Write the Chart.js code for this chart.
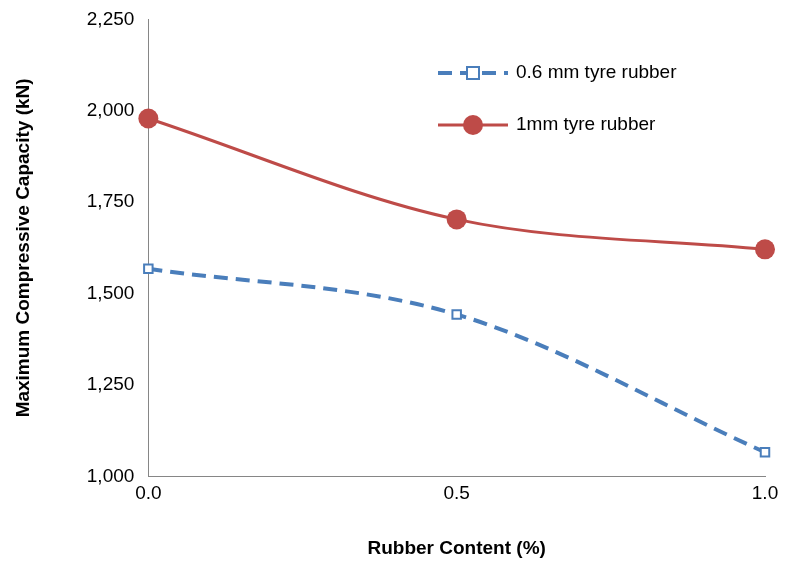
<!DOCTYPE html>
<html lang="en">
<head>
<meta charset="UTF-8">
<title>Compressive capacity</title>
<script src="https://cdn.jsdelivr.net/npm/chart.js@4.4.0/dist/chart.umd.min.js"></script>
<style>
  html, body { margin: 0; padding: 0; background: #fff; }
  #wrap { width: 786px; height: 567px; }
</style>
</head>
<body>
<div id="wrap"><canvas id="chart"></canvas></div>
<script>
var rubberContent = [0.0, 0.5, 1.0];
var capacity06 = [1568, 1443, 1066];
var capacity1 = [1979, 1703, 1621];
var seriesNames = ['0.6 mm tyre rubber', '1mm tyre rubber'];

var blue = '#4a7ebb';
var red = '#be4b48';
var font = "'Liberation Sans', Arial, sans-serif";

function pts(xs, ys) {
    return xs.map(function (x, i) { return { x: x, y: ys[i] }; });
}

// legend drawn inside the plot, line + marker sample like the original
var insideLegend = {
    id: 'insideLegend',
    afterDraw: function (chart) {
        var ctx = chart.ctx;
        var items = chart.data.datasets;
        var x0 = 438, y0 = 73, gap = 52;
        ctx.save();
        items.forEach(function (ds, i) {
            var y = y0 + i * gap;
            ctx.strokeStyle = ds.borderColor;
            ctx.lineWidth = ds.borderWidth;
            ctx.setLineDash(ds.borderDash || []);
            ctx.beginPath();
            ctx.moveTo(x0, y);
            ctx.lineTo(x0 + 70, y);
            ctx.stroke();
            ctx.setLineDash([]);
            ctx.fillStyle = ds.pointBackgroundColor;
            ctx.strokeStyle = ds.borderColor;
            ctx.lineWidth = 2;
            if (ds.pointStyle === 'rect') {
                ctx.fillRect(x0 + 29, y - 6, 12, 12);
                ctx.strokeRect(x0 + 29, y - 6, 12, 12);
            } else {
                ctx.beginPath();
                ctx.arc(x0 + 35, y, 10, 0, Math.PI * 2);
                ctx.fill();
            }
            ctx.fillStyle = '#000';
            ctx.font = '19px ' + font;
            ctx.textBaseline = 'middle';
            ctx.fillText(ds.label, x0 + 78, y);
        });
        ctx.restore();
    }
};

new Chart(document.getElementById('chart'), {
    type: 'line',
    data: {
        datasets: [
            {
                label: seriesNames[0],
                data: pts(rubberContent, capacity06),
                borderColor: blue,
                borderWidth: 4,
                borderDash: [14, 8],
                pointStyle: 'rect',
                pointRadius: 6,
                pointBorderWidth: 2,
                pointBackgroundColor: '#fff',
                pointBorderColor: blue,
                cubicInterpolationMode: 'monotone',
                clip: false
            },
            {
                label: seriesNames[1],
                data: pts(rubberContent, capacity1),
                borderColor: red,
                borderWidth: 3,
                pointStyle: 'circle',
                pointRadius: 10,
                pointBorderWidth: 0,
                pointBackgroundColor: red,
                pointBorderColor: red,
                cubicInterpolationMode: 'monotone',
                clip: false
            }
        ]
    },
    options: {
        responsive: true,
        maintainAspectRatio: false,
        animation: false,
        layout: { padding: { top: 15, right: 21, left: 8, bottom: 3 } },
        plugins: { legend: { display: false }, tooltip: { enabled: false } },
        scales: {
            x: {
                type: 'linear',
                min: 0, max: 1,
                grid: { display: false, drawTicks: true, tickLength: 6, color: '#868686' },
                border: { color: '#868686', width: 1 },
                ticks: { stepSize: 0.5, color: '#000', padding: 0, font: { size: 19, family: font },
                    callback: function (v) { return v.toFixed(1); } },
                title: { display: true, text: 'Rubber Content (%)', color: '#000',
                    font: { size: 19, weight: 'bold', family: font }, padding: { top: 32 } }
            },
            y: {
                min: 1000, max: 2250,
                grid: { display: false, drawTicks: true, tickLength: 6 },
                border: { color: '#868686', width: 1 },
                ticks: { stepSize: 250, color: '#000', padding: 8, font: { size: 19, family: font },
                    callback: function (v) { return v.toLocaleString('en-US'); } },
                title: { display: true, text: 'Maximum Compressive Capacity (kN)', color: '#000',
                    font: { size: 19, weight: 'bold', family: font }, padding: { bottom: 44 } }
            }
        }
    },
    plugins: [insideLegend]
});
</script>
</body>
</html>
